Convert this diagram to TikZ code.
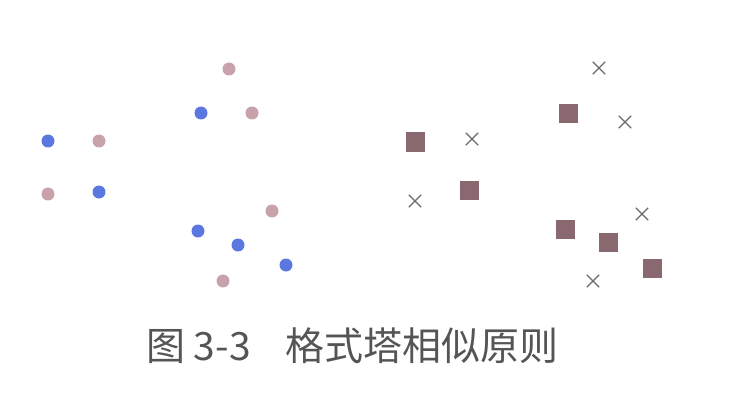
\documentclass[tikz,border=0pt]{standalone}
\usepackage{fontspec}
\newfontfamily\cjk{Noto Sans CJK SC}
\usetikzlibrary{shapes.misc}

\definecolor{dotblue}{HTML}{5A78E0}
\definecolor{dotpink}{HTML}{C8A2AA}
\definecolor{sqbrown}{HTML}{8A6870}
\definecolor{crossgray}{HTML}{6A6A6A}
\definecolor{capgray}{HTML}{555555}

\begin{document}
\begin{tikzpicture}[x=1pt, y=-1pt,
        bdot/.style={circle, fill=dotblue, inner sep=0pt, minimum size=13pt},
        pdot/.style={circle, fill=dotpink, inner sep=0pt, minimum size=13pt},
        sqbox/.style={rectangle, fill=sqbrown, inner sep=0pt, minimum size=19pt},
        xmark/.style={cross out, draw=crossgray, line width=1.4pt, inner sep=0pt, minimum size=11pt}
    ]
        \useasboundingbox (0,0) rectangle (756,404);

        % --- left group: blue and pink dots ---
        \node[pdot] (p1) at (229, 69) {};
        \node[bdot] (b1) at (201, 113) {};
        \node[pdot] (p2) at (252, 113) {};
        \node[bdot] (b2) at (48, 141) {};
        \node[pdot] (p3) at (99, 141) {};
        \node[pdot] (p4) at (48, 194) {};
        \node[bdot] (b3) at (99, 192) {};
        \node[pdot] (p5) at (272, 211) {};
        \node[bdot] (b4) at (198, 231) {};
        \node[bdot] (b5) at (238, 245) {};
        \node[bdot] (b6) at (286, 265) {};
        \node[pdot] (p6) at (223, 281) {};

        % --- right group: squares and crosses ---
        \node[xmark] (x1) at (599, 68) {};
        \node[sqbox] (s1) at (568, 114) {};
        \node[xmark] (x2) at (625, 122) {};
        \node[sqbox] (s2) at (415, 142) {};
        \node[xmark] (x3) at (472, 139) {};
        \node[sqbox] (s3) at (469, 190) {};
        \node[xmark] (x4) at (415, 201) {};
        \node[xmark] (x5) at (642, 214) {};
        \node[sqbox] (s4) at (565, 229) {};
        \node[sqbox] (s5) at (608, 242) {};
        \node[sqbox] (s6) at (652, 268) {};
        \node[xmark] (x6) at (593, 281) {};

        % --- caption ---
        \node[font=\cjk\fontsize{39}{39}\selectfont, text=capgray, inner sep=0pt, anchor=west] (caption) at (146, 346) {图 3-3\hspace{0.9em}格式塔相似原则};
    \end{tikzpicture}
\end{document}
